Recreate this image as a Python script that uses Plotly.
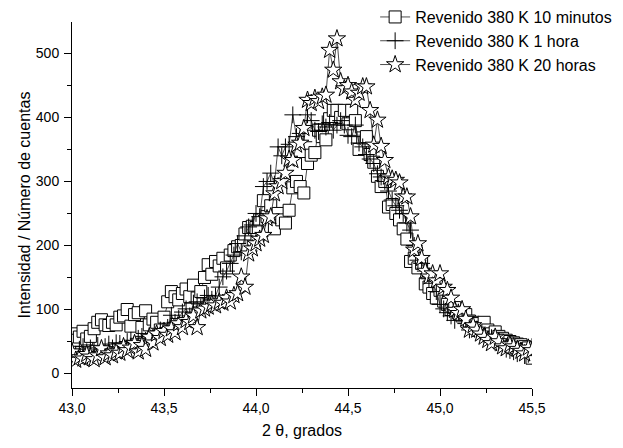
import plotly.graph_objects as go

x_start = 43.0
x_step = 0.02

# Revenido 380 K 10 minutos (open squares)
s10min = [
    62, 52, 57, 66, 54, 58, 70, 80, 84, 76,
    75, 80, 76, 88, 90, 100, 74, 92, 95, 72,
    98, 76, 85, 80, 68, 88, 112, 128, 120, 115,
    125, 132, 120, 138, 118, 128, 150, 170, 155, 175,
    168, 180, 165, 185, 192, 198, 200, 218, 228, 230,
    228, 240, 270, 245, 262, 226, 250, 240, 235, 255,
    290, 300, 292, 282, 328, 341, 345, 380, 370, 365,
    398, 411, 411, 400, 411, 390, 411, 395, 350, 368,
    370, 342, 330, 308, 292, 300, 260, 264, 250, 240,
    226, 210, 175, 180, 165, 172, 140, 135, 125, 118,
    130, 113, 108, 100, 103, 95, 90, 92, 82, 80,
    78, 72, 80, 68, 62, 65, 58, 55, 52, 50,
    48, 46, 45, 42, 40, 24,
]

# Revenido 380 K 1 hora (plus)
s1h = [
    36, 30, 38, 42, 34, 40, 35, 44, 38, 42,
    46, 40, 48, 47, 43, 50, 52, 48, 55, 58,
    52, 60, 56, 62, 68, 64, 72, 91, 80, 86,
    96, 101, 90, 110, 112, 104, 118, 122, 116, 121,
    135, 151, 160, 172, 185, 203, 190, 215, 229, 232,
    250, 245, 292, 300, 313, 296, 354, 340, 354, 358,
    404, 370, 375, 362, 404, 395, 380, 378, 390, 385,
    392, 380, 388, 395, 388, 372, 370, 388, 360, 354,
    342, 335, 328, 312, 307, 300, 285, 271, 262, 255,
    250, 235, 224, 200, 177, 172, 160, 148, 141, 128,
    108, 101, 95, 90, 83, 96, 88, 78, 68, 72,
    65, 62, 58, 52, 56, 48, 45, 42, 38, 36,
    34, 31, 36, 28, 30, 42,
]

# Revenido 380 K 20 horas (open stars)
s20h = [
    34, 21, 25, 23, 30, 26, 22, 28, 39, 25,
    31, 28, 34, 32, 42, 36, 40, 47, 34, 44,
    38, 57, 48, 62, 55, 66, 60, 70, 64, 78,
    72, 83, 80, 90, 72, 98, 101, 104, 109, 106,
    112, 110, 118, 112, 122, 125, 151, 135, 187, 195,
    203, 210, 216, 242, 245, 281, 292, 300, 313, 335,
    333, 357, 360, 383, 427, 422, 430, 425, 432, 435,
    505, 474, 523, 456, 445, 450, 440, 427, 438, 448,
    448, 411, 357, 396, 355, 333, 307, 304, 302, 298,
    276, 276, 245, 193, 203, 180, 160, 151, 156, 145,
    156, 135, 130, 118, 99, 94, 100, 85, 68, 75,
    68, 62, 57, 52, 47, 57, 50, 42, 39, 45,
    42, 38, 35, 31, 40, 36,
]

names = ["Revenido 380 K 10 minutos", "Revenido 380 K 1 hora", "Revenido 380 K 20 horas"]
x = [round(x_start + i * x_step, 2) for i in range(len(s10min))]

fig = go.Figure()
styles = [
    (s10min, "square", 12),
    (s1h, "cross-thin", 12),
    (s20h, "star", 13),
]
for (vals, sym, size), name in zip(styles, names):
    fig.add_trace(go.Scatter(
        x=x, y=vals, name=name, mode="lines+markers",
        line=dict(color="#222222", width=0.8),
        marker=dict(symbol=sym, size=size, color="white",
                    line=dict(color="black", width=1)),
    ))

fig.update_layout(
    width=623, height=448,
    margin=dict(l=72, r=91, t=22, b=60, autoexpand=False),
    paper_bgcolor="white", plot_bgcolor="white",
    separators=",.",
    font=dict(family="Liberation Sans, Arial, sans-serif", size=14, color="black"),
    showlegend=True,
    legend=dict(x=0.659, y=1.06, xanchor="left", yanchor="top",
                bgcolor="rgba(0,0,0,0)", font=dict(size=16),
                tracegroupgap=0),
)
fig.update_xaxes(
    range=[43.0, 45.5], showgrid=False, zeroline=False,
    showline=True, linecolor="black", linewidth=1,
    ticks="outside", ticklen=7, tickwidth=1, tickcolor="black",
    dtick=0.5, tick0=43.0, tickformat=".1f",
    minor=dict(ticks="outside", ticklen=4, dtick=0.25, tickcolor="black"),
    title=dict(text="2 θ, grados", font=dict(size=16), standoff=10),
)
fig.update_yaxes(
    range=[-22.6, 549], showgrid=False, zeroline=False,
    showline=True, linecolor="black", linewidth=1,
    ticks="outside", ticklen=7, tickwidth=1, tickcolor="black",
    dtick=100, tick0=0, ticklabelstandoff=2,
    minor=dict(ticks="outside", ticklen=4, dtick=50, tickcolor="black"),
    title=dict(text="Intensidad / Número de cuentas", font=dict(size=16), standoff=1),
)

fig.write_html("out.html")
